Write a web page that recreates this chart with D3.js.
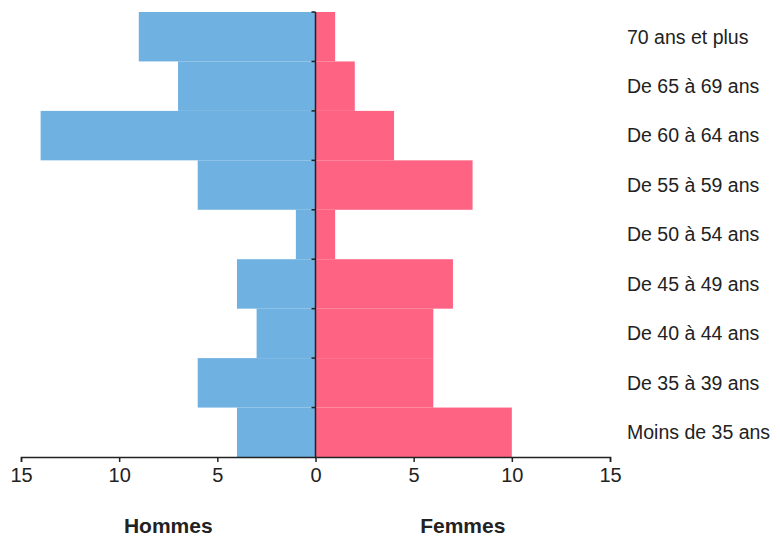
<!DOCTYPE html>
<html><head><meta charset="utf-8">
<script src="https://cdn.jsdelivr.net/npm/d3@7"></script>
<style>body{margin:0;background:#fff;}svg{display:block;}</style>
</head><body>
<svg id="c" width="780" height="536"></svg>
<script>
const categories = ["70 ans et plus","De 65 à 69 ans","De 60 à 64 ans","De 55 à 59 ans","De 50 à 54 ans","De 45 à 49 ans","De 40 à 44 ans","De 35 à 39 ans","Moins de 35 ans"];
const hommes = [9,7,14,6,1,4,3,6,4];
const femmes = [1,2,4,8,1,7,6,6,10];
const tickValues = [-15,-10,-5,0,5,10,15];

const svg = d3.select("#c");
const x = d3.scaleLinear().domain([-15,15]).range([21,610]);
const y = d3.scaleBand().domain(categories).range([12,457]).padding(0);
const font = "Arial, 'Liberation Sans', sans-serif";

svg.selectAll("rect.h").data(categories).join("rect")
  .attr("x", (d,i)=>x(-hommes[i])).attr("y", d=>y(d))
  .attr("width",(d,i)=>x(0)-x(-hommes[i])).attr("height", y.bandwidth())
  .attr("fill","#6fb1e1");
svg.selectAll("rect.f").data(categories).join("rect")
  .attr("x", x(0)).attr("y", d=>y(d))
  .attr("width",(d,i)=>x(femmes[i])-x(0)).attr("height", y.bandwidth())
  .attr("fill","#fe6383");

// x axis
const xa = svg.append("g").attr("transform","translate(0,457)")
  .call(d3.axisBottom(x).tickValues(tickValues).tickFormat(d=>Math.abs(d)).tickSizeOuter(0).tickSize(5));
xa.select(".domain").attr("stroke","#222").attr("stroke-width",1.5);
xa.selectAll(".tick line").attr("stroke","#222").attr("stroke-width",1.5);
xa.selectAll(".tick text").attr("font-family",font).attr("font-size",20).attr("fill","#222")
  .attr("y",0).attr("dy","0").attr("transform","translate(0,25)");

// y axis (center line with ticks at band boundaries)
const bounds = categories.map(c=>y(c));
svg.append("line").attr("x1",x(0)).attr("x2",x(0)).attr("y1",12).attr("y2",457)
  .attr("stroke","#222").attr("stroke-width",1.5);
svg.selectAll("line.yt").data(bounds).join("line")
  .attr("x1",x(0)-4).attr("x2",x(0)).attr("y1",d=>d).attr("y2",d=>d)
  .attr("stroke","#222").attr("stroke-width",1.5);

// category labels
svg.selectAll("text.cat").data(categories).join("text")
  .attr("x",627).attr("y",d=>y(d)+y.bandwidth()/2).attr("dy","0.35em")
  .attr("font-family",font).attr("font-size",19.5).attr("fill","#222").text(d=>d);

// side labels
svg.append("text").attr("x",(x(-15)+x(0))/2).attr("y",533).attr("text-anchor","middle")
  .attr("font-family",font).attr("font-size",21).attr("font-weight","bold").attr("fill","#222").text("Hommes");
svg.append("text").attr("x",(x(15)+x(0))/2).attr("y",533).attr("text-anchor","middle")
  .attr("font-family",font).attr("font-size",21).attr("font-weight","bold").attr("fill","#222").text("Femmes");
</script>
</body></html>
